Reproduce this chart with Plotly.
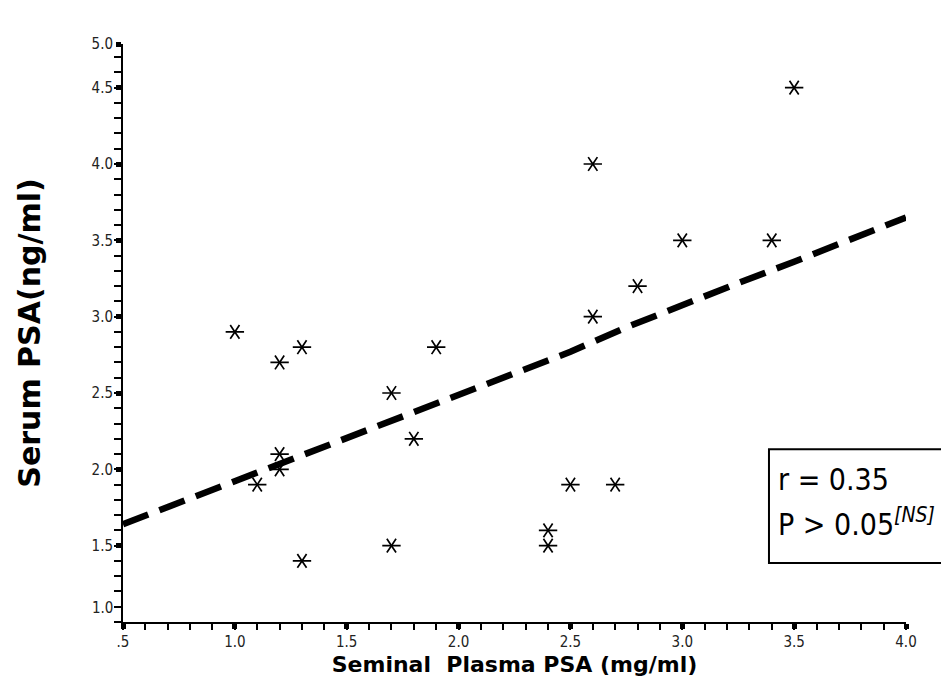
import plotly.graph_objects as go

# Scatter data: Seminal plasma PSA (mg/ml) vs Serum PSA (ng/ml)
seminal_psa = [1.0, 1.2, 1.3, 1.2, 1.2, 1.1, 1.3, 1.7, 1.8, 1.9, 1.7,
               2.4, 2.4, 2.5, 2.7, 2.6, 2.6, 2.8, 3.0, 3.4, 3.5]
serum_psa = [2.9, 2.7, 2.8, 2.1, 2.0, 1.9, 1.4, 2.5, 2.2, 2.8, 1.5,
             1.6, 1.5, 1.9, 1.9, 4.0, 3.0, 3.2, 3.5, 3.5, 4.5]

# Fitted trend curve
fit_x = [0.5, 0.75, 1.0, 1.25, 1.5, 1.75, 2.0, 2.25, 2.5, 2.75, 3.0, 3.25, 3.5, 3.75, 4.0]
fit_y = [1.64, 1.78, 1.92, 2.06, 2.21, 2.35, 2.49, 2.62, 2.77, 2.93, 3.08, 3.22, 3.36, 3.50, 3.65]

x_ticks = [0.5, 1.0, 1.5, 2.0, 2.5, 3.0, 3.5, 4.0]
x_labels = [".5", "1.0", "1.5", "2.0", "2.5", "3.0", "3.5", "4.0"]
y_top = 4.786
y_ticks = [1.5, 2.0, 2.5, 3.0, 3.5, 4.0, 4.5, y_top]
y_labels = ["1.5", "2.0", "2.5", "3.0", "3.5", "4.0", "4.5", "5.0"]

NARROW = "DejaVu Sans Condensed, Liberation Sans Narrow, Liberation Sans, sans-serif"
tick_font = dict(family=NARROW, size=15, color="#222")

fig = go.Figure()
fig.add_trace(go.Scatter(x=fit_x, y=fit_y, mode="lines",
                         line=dict(color="black", width=6.5, dash="27px,12px"),
                         hoverinfo="skip", showlegend=False))
for sym in ["y-left-open", "y-right-open"]:
    fig.add_trace(go.Scatter(x=seminal_psa, y=serum_psa, mode="markers",
                             marker=dict(symbol=sym, size=11.5, color="black",
                                         line=dict(color="black", width=1.7)),
                             showlegend=False))

fig.update_xaxes(range=[0.5, 4.0], tickvals=x_ticks, ticktext=x_labels,
                 ticks="outside", ticklen=5, tickwidth=5, tickcolor="black",
                 minor=dict(dtick=0.1, tick0=0.5, ticks="outside", ticklen=6,
                            tickwidth=1.5, tickcolor="black"),
                 showline=True, linecolor="black", linewidth=2,
                 showgrid=False, zeroline=False, tickfont=tick_font,
                 title=dict(text="Seminal\u00a0 Plasma PSA (mg/ml)",
                            font=dict(family="DejaVu Sans", size=22, color="black", weight="bold"),
                            standoff=7))
fig.update_yaxes(range=[1.0, y_top], tickvals=y_ticks, ticktext=y_labels,
                 ticks="outside", ticklen=5, tickwidth=5, tickcolor="black",
                 minor=dict(dtick=0.1, tick0=1.0, ticks="outside", ticklen=7,
                            tickwidth=1.5, tickcolor="black"),
                 showline=True, linecolor="black", linewidth=2,
                 showgrid=False, zeroline=False, tickfont=tick_font,
                 title=dict(text="Serum PSA(ng/ml)",
                            font=dict(family="DejaVu Sans", size=30, color="black", weight="bold"),
                            standoff=42))

fig.add_annotation(x=0, y=1.09, xref="paper", yref="y", text="1.0", showarrow=False,
                   xanchor="right", xshift=-8, font=tick_font)

fig.add_shape(type="rect", xref="paper", yref="paper", x0=0.825, x1=1.06, y0=0.102, y1=0.299,
              line=dict(color="black", width=2), fillcolor="white", layer="above")
box_font = dict(family=NARROW, size=30, color="black")
fig.add_annotation(x=0.834, y=0.2457, xref="paper", yref="paper", text="r = 0.35",
                   showarrow=False, xanchor="left", yanchor="middle", font=box_font)
fig.add_annotation(x=0.834, y=0.173, xref="paper", yref="paper",
                   text="P > 0.05<sup><i>[NS]</i></sup>",
                   showarrow=False, xanchor="left", yanchor="middle", font=box_font)

fig.update_layout(width=941, height=693, margin=dict(l=123, r=35, t=44, b=71),
                  plot_bgcolor="white", paper_bgcolor="white")

fig.write_html("out.html")
